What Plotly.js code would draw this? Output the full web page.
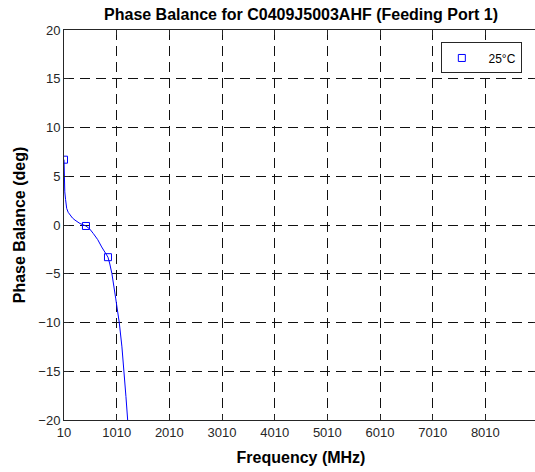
<!DOCTYPE html>
<html>
<head>
<meta charset="utf-8">
<script src="https://cdn.plot.ly/plotly-3.0.1.min.js"></script>
<style>
html,body{margin:0;padding:0;overflow:hidden;background:#fff;}
#chart{width:560px;height:472px;}
</style>
</head>
<body>
<div id="chart"></div>
<script>
// Curve data (MHz, deg)
const freqLine = [10, 12, 15, 20, 25, 40, 61, 90, 124, 170, 219, 314, 427, 500, 566, 650, 725, 790, 845, 880, 920, 991, 1059, 1110, 1154, 1186, 1219, 1260];
const phaseLine = [6.7, 5.8, 5.0, 4.0, 3.4, 2.6, 1.7, 1.3, 1.0, 0.72, 0.5, 0.15, -0.1, -0.42, -0.87, -1.5, -2.25, -2.8, -3.3, -4.0, -5.0, -7.5, -10.0, -12.5, -15.0, -17.6, -20.0, -23.5];
// Marker samples
const freqMarkers = [10, 427, 845];
const phaseMarkers = [6.7, -0.1, -3.3];
const seriesName = '  25°C';
// Axis ticks
const xTickVals = [10, 1010, 2010, 3010, 4010, 5010, 6010, 7010, 8010];
const xTickText = ['10', '1010', '2010', '3010', '4010', '5010', '6010', '7010', '8010'];
const yTickVals = [-20, -15, -10, -5, 0, 5, 10, 15, 20];

const axisColor = '#262626';
const fontFam = 'Arial, "Liberation Sans", Helvetica, sans-serif';

const traces = [
  {x: freqLine, y: phaseLine, mode: 'lines', type: 'scatter',
   line: {color: '#0000ff', width: 1}, showlegend: false, hoverinfo: 'skip'},
  {x: freqMarkers, y: phaseMarkers, mode: 'markers', type: 'scatter', name: seriesName,
   marker: {symbol: 'square-open', size: 7, color: '#0000ff', line: {width: 1, color: '#0000ff'}}}
];

const layout = {
  width: 560, height: 472,
  margin: {l: 64, r: 22, t: 30, b: 52, pad: 0},
  paper_bgcolor: '#fff', plot_bgcolor: '#fff',
  font: {family: fontFam, size: 13, color: axisColor},
  title: {text: '<b>Phase Balance for C0409J5003AHF (Feeding Port 1)</b>',
          font: {family: fontFam, size: 16, color: '#000'},
          x: 0.5, xref: 'paper', y: 0.970, yref: 'container', yanchor: 'middle'},
  xaxis: {
    range: [10, 9010], tickvals: xTickVals, ticktext: xTickText,
    showline: true, linecolor: axisColor, linewidth: 1, mirror: 'ticks',
    ticks: 'inside', ticklen: 5, tickcolor: axisColor,
    showgrid: true, gridcolor: '#111', gridwidth: 1, griddash: '10px,6px',
    zeroline: false,
    tickfont: {family: fontFam, size: 13, color: axisColor},
    title: {text: '<b>Frequency (MHz)</b>', font: {family: fontFam, size: 16, color: '#000'}, standoff: 13}
  },
  yaxis: {
    range: [-20, 20], tickvals: yTickVals,
    showline: true, linecolor: axisColor, linewidth: 1, mirror: 'ticks',
    ticks: 'inside', ticklen: 5, tickcolor: axisColor,
    showgrid: true, gridcolor: '#111', gridwidth: 1, griddash: '10px,6px',
    zeroline: false,
    tickfont: {family: fontFam, size: 13, color: axisColor},
    title: {text: '<b>Phase Balance (deg)</b>', font: {family: fontFam, size: 16, color: '#000'}, standoff: 8}
  },
  legend: {x: 0.795, y: 0.968, xanchor: 'left', yanchor: 'top',
           bgcolor: '#fff', bordercolor: axisColor, borderwidth: 1,
           font: {family: fontFam, size: 12, color: '#000'}},
  showlegend: true
};

Plotly.newPlot('chart', traces, layout, {displayModeBar: false, staticPlot: true});
</script>
</body>
</html>
